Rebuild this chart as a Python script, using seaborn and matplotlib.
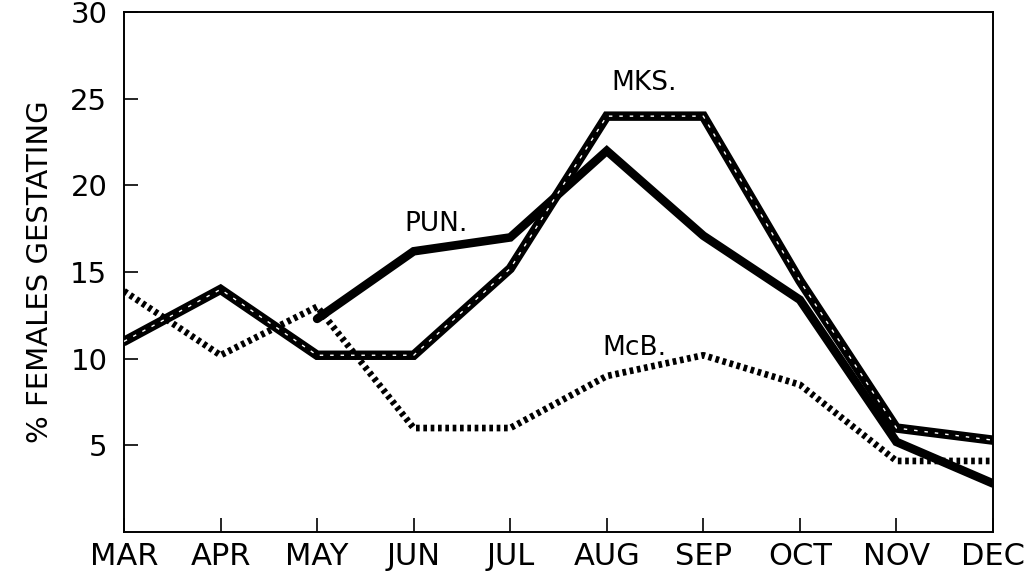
import numpy as np
import pandas as pd
import seaborn as sns
import matplotlib
matplotlib.use("Agg")
import matplotlib.pyplot as plt

months = ["MAR", "APR", "MAY", "JUN", "JUL", "AUG", "SEP", "OCT", "NOV", "DEC"]
mks = [11.0, 14.0, 10.2, 10.2, 15.2, 24.0, 24.0, 14.5, 6.0, 5.3]
pun = [np.nan, np.nan, 12.3, 16.2, 17.0, 22.0, 17.1, 13.4, 5.2, 2.8]
mcb = [13.9, 10.2, 13.0, 6.0, 6.0, 9.0, 10.2, 8.5, 4.1, 4.1]
yticks = [5, 10, 15, 20, 25, 30]

df = pd.DataFrame({"pos": range(len(months)), "month": months,
                   "MKS": mks, "PUN": pun, "McB": mcb})

sns.set_style("ticks")
plt.rcParams["font.family"] = ["DejaVu Sans"]
plt.rcParams["text.color"] = "black"
plt.rcParams["axes.labelcolor"] = "black"

fig = plt.figure(figsize=(10.29, 5.75), dpi=100)
ax = fig.add_axes([0.1205, 0.0748, 0.8445, 0.904])

# McB: heavy square dots
sns.lineplot(data=df, x="pos", y="McB", ax=ax, color="black", lw=4.8,
             linestyle=(0, (0.55, 0.55)), dash_capstyle="butt", zorder=2)
# PUN: solid heavy line
sns.lineplot(data=df.dropna(subset=["PUN"]), x="pos", y="PUN", ax=ax,
             color="black", lw=6.2, solid_joinstyle="miter", zorder=3)
# MKS: heavy black line with white hatching
sns.lineplot(data=df, x="pos", y="MKS", ax=ax, color="black", lw=6.8,
             solid_joinstyle="miter", zorder=4)
sns.lineplot(data=df, x="pos", y="MKS", ax=ax, color="white", lw=1.0,
             linestyle=(0, (2.5, 5)), dash_capstyle="butt", zorder=5)

ax.set_xlim(0, 9)
ax.set_ylim(0, 30)
ax.set_xticks(df["pos"])
ax.set_xticklabels(months, fontsize=22)
ax.set_yticks(yticks)
ax.set_yticklabels([str(t) for t in yticks], fontsize=21)
ax.tick_params(axis="both", direction="in", length=10, width=1.2, pad=7, colors="black")
ax.tick_params(axis="y", pad=12)
ax.set_xlabel("")
ax.set_ylabel("% FEMALES GESTATING", fontsize=21, labelpad=12)
for s in ax.spines.values():
    s.set_linewidth(1.4)
    s.set_color("black")

ax.text(5.05, 25.5, "MKS.", fontsize=19)
ax.text(2.9, 17.4, "PUN.", fontsize=19)
ax.text(4.95, 10.2, "McB.", fontsize=19)

fig.savefig("out.png", dpi=100)
